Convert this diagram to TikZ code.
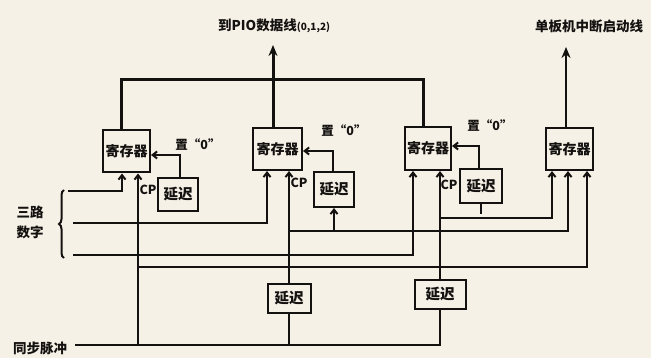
\documentclass[tikz,border=0pt]{standalone}
\usepackage{fontspec}
\setmainfont{Noto Sans CJK SC}
\usetikzlibrary{arrows.meta,calc,decorations.pathreplacing}
\definecolor{paper}{RGB}{246,241,230}
\definecolor{ink}{RGB}{20,18,16}
\begin{document}
\begin{tikzpicture}[x=1pt,y=-1pt,
  box/.style={draw=ink,line width=2pt,inner sep=0pt,text=ink,font=\fontsize{14}{14}\selectfont\bfseries},
  reg/.style={box,minimum width=47pt,minimum height=42pt},
  dly/.style={box,minimum width=41pt,minimum height=33pt,font=\fontsize{14.5}{14.5}\selectfont\bfseries},
  sig/.style={draw=ink,line width=2pt},
  busline/.style={draw=ink,line width=3pt},
  inarrow/.style={sig,-{Straight Barb[length=4.5pt,width=7pt]}},
  uparrow/.style={busline,-{Stealth[length=11pt,width=9pt]}},
  lbl/.style={text=ink,font=\fontsize{13.5}{13.5}\selectfont\bfseries,inner sep=0pt},
  small/.style={text=ink,font=\fontsize{12.5}{12.5}\selectfont\bfseries,inner sep=0pt},
]
\fill[paper,draw=none] (0,0) rectangle (651,358);
\useasboundingbox (0,0) rectangle (651,358);

% registers
\node[reg] (r1) at (126.5,151.5) {寄存器};
\node[reg,minimum width=49pt] (r2) at (277.5,149) {寄存器};
\node[reg,minimum width=46pt,minimum height=43pt] (r3) at (428,148.5) {寄存器};
\node[reg] (r4) at (569.5,149) {寄存器};
% delays
\node[dly,minimum width=40pt] (d1) at (178,194.5) {延迟};
\node[dly,minimum width=40pt,minimum height=35pt] (d2) at (334,189.5) {延迟};
\node[dly,minimum width=42pt,minimum height=34pt] (d3) at (481,186) {延迟};
\node[dly,minimum width=43pt,minimum height=29pt] (d4) at (289,298.5) {延迟};
\node[dly,minimum width=51pt,minimum height=29pt] (d5) at (440,294.5) {延迟};

% labels
\node[lbl,anchor=west] (pio) at (218,26) {到PIO数据线{\fontsize{10}{10}\selectfont(0,1,2)}};
\node[lbl] (int) at (589,26) {单板机中断启动线};
\node[small] (z1) at (198,145) {置“0”};
\node[small] (z2) at (344,131) {置“0”};
\node[small] (z3) at (490,126) {置“0”};
\node[small] (cp1) at (148,190) {CP};
\node[small] (cp2) at (299,183) {CP};
\node[small] (cp3) at (449,185) {CP};
\node[lbl,align=center,font=\fontsize{13.5}{20}\selectfont\bfseries] (three) at (30,222) {三路\\数字};
\node[lbl] (sync) at (40,348) {同步脉冲};

% brace
\draw[sig,decorate,decoration={brace,amplitude=5pt}] (64,258) -- (64,190);

% free ends and junctions
\coordinate (a1) at (68,191);
\coordinate (a2) at (73,223);
\coordinate (a3) at (73,255);
\coordinate (s0) at (75,345);
\coordinate (pioarrow) at (273,45);
\coordinate (intarrow) at (566,47);
\coordinate (bus) at (273,80);
\coordinate (j1) at (138,267);
\coordinate (j2) at (289,231);
\coordinate (j3) at (440,218);

% output bus
\draw[busline] ($(r1.north)+(-5.5,0)$) |- (bus) -| ($(r3.north)+(-5,0)$);
\draw[uparrow] ($(r2.north)+(-4.5,0)$) -- (pioarrow);
\draw[uparrow,line width=2.2pt] ($(r4.north)+(-3.5,0)$) -- (intarrow);

% set-0 lines
\draw[inarrow] ($(d1.north)+(2,0)$) |- ($(r1.east)+(0,3.5)$);
\draw[inarrow] ($(d2.north)+(-1,0)$) |- ($(r2.east)+(0,2)$);
\draw[inarrow] ($(d3.north)+(-2,0)$) |- ($(r3.east)+(0,-2.5)$);

% data lines
\draw[inarrow] (a1) -| ($(r1.south)+(-4.5,0)$);
\draw[inarrow] (a2) -| ($(r2.south)+(-10.5,0)$);
\draw[inarrow] (a3) -| ($(r3.south)+(-15,0)$);

% sync pulse and clocks
\draw[sig] (s0) -| (d5.south);
\draw[inarrow] (j1 |- s0) -- ($(r1.south)+(11.5,0)$);
\draw[sig] (d4.south |- s0) -- (d4.south);
\draw[inarrow] (d4.north) -- (d4.north |- r2.south);
\draw[inarrow] (d5.north) -- (d5.north |- r3.south);

% branches to fourth register and delay
\draw[inarrow] (j1) -| ($(r4.south)+(17.5,0)$);
\draw[inarrow] (j2) -| ($(r4.south)+(-1.5,0)$);
\draw[inarrow] (j3) -| ($(r4.south)+(-17.5,0)$);
\draw[inarrow] (j2 -| d2.south) -- (d2.south);
\draw[sig] (d3.south) -- ++(0,10);
\end{tikzpicture}
\end{document}
